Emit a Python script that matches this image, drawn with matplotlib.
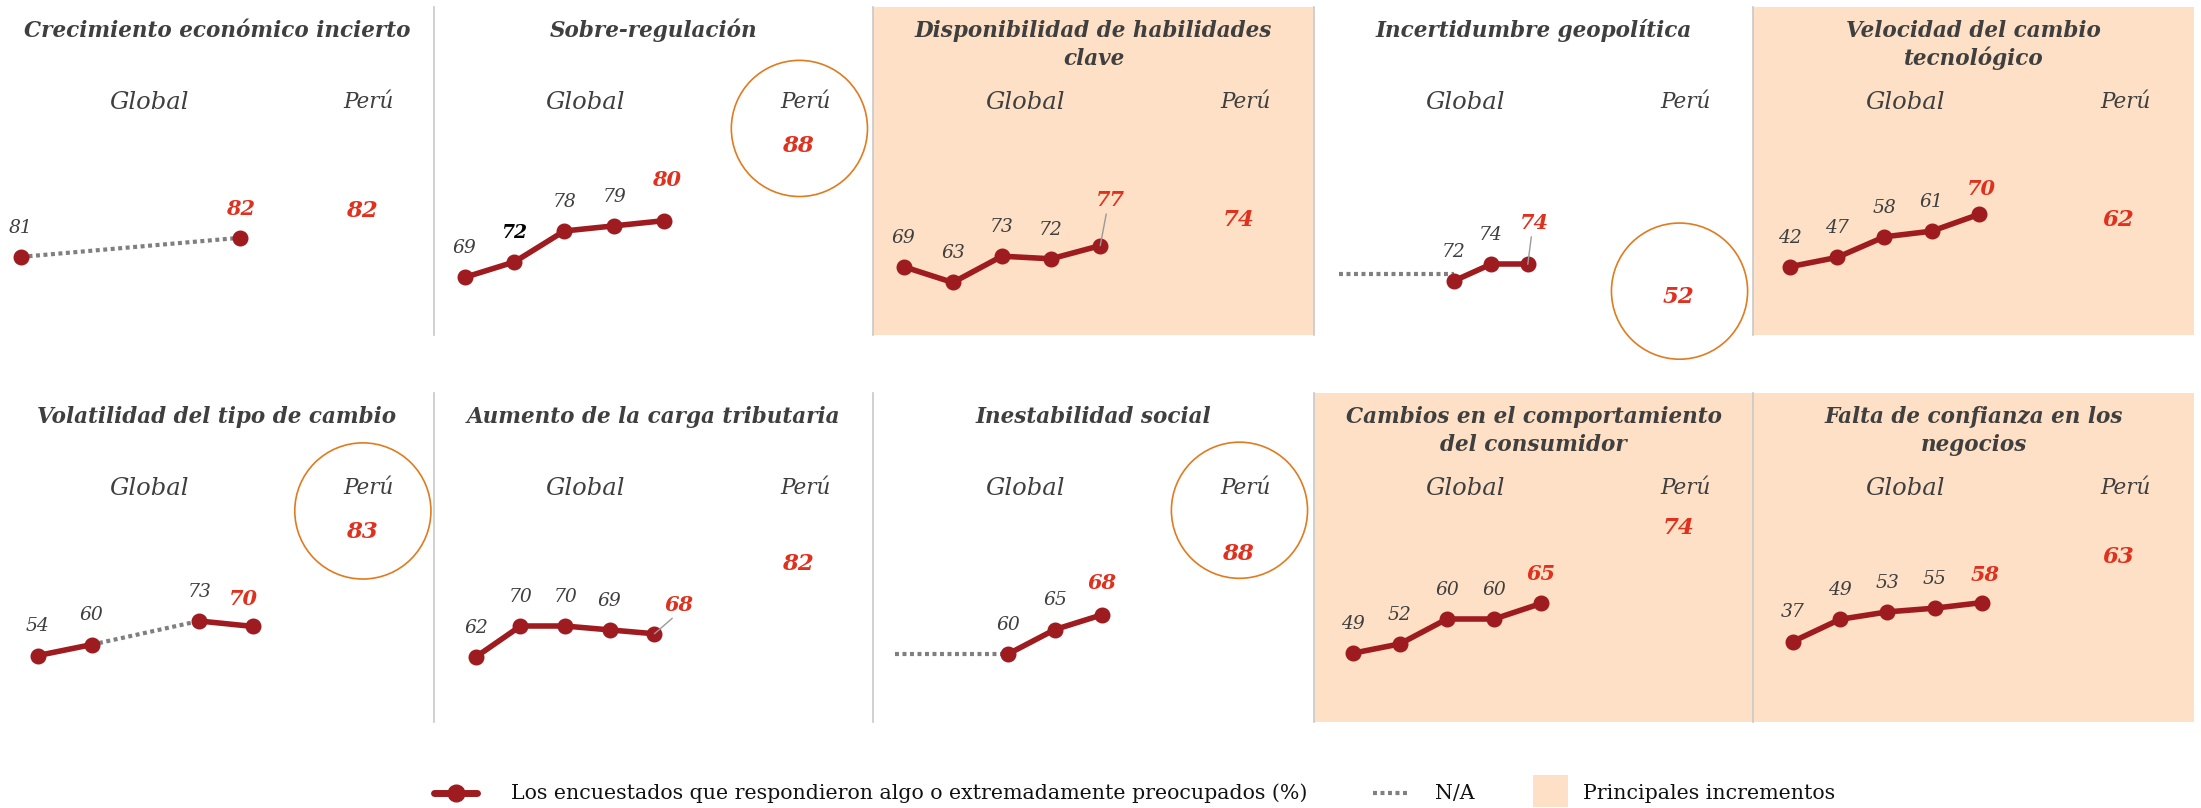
import numpy as np
import matplotlib.pyplot as plt
from matplotlib.patches import Ellipse, Rectangle
from matplotlib.lines import Line2D

plt.rcParams['font.family'] = 'DejaVu Serif'

# layout numbers are measured on a 1568 px wide copy of the reference
RW = 1568.0
RH = RW * 808 / 2201


def fx(x):
    return x / RW


def fy(y):
    return 1 - y / RH


# data
titles = [
    "Crecimiento económico incierto",
    "Sobre-regulación",
    "Disponibilidad de habilidades\nclave",
    "Incertidumbre geopolítica",
    "Velocidad del cambio\ntecnológico",
    "Volatilidad del tipo de cambio",
    "Aumento de la carga tributaria",
    "Inestabilidad social",
    "Cambios en el comportamiento\ndel consumidor",
    "Falta de confianza en los\nnegocios",
]
global_values = [
    [81, 82],
    [69, 72, 78, 79, 80],
    [69, 63, 73, 72, 77],
    [72, 74, 74],
    [42, 47, 58, 61, 70],
    [54, 60, 73, 70],
    [62, 70, 70, 69, 68],
    [60, 65, 68],
    [49, 52, 60, 60, 65],
    [37, 49, 53, 55, 58],
]
global_slots = [
    [0, 4],
    [0, 1, 2, 3, 4],
    [0, 1, 2, 3, 4],
    [0, 1, 2],
    [0, 1, 2, 3, 4],
    [0, 1, 3, 4],
    [0, 1, 2, 3, 4],
    [0, 1, 2],
    [0, 1, 2, 3, 4],
    [0, 1, 2, 3, 4],
]
# pairs of points joined by a dotted N/A line instead of a solid one
na_links = [[(0, 1)], [], [], [], [], [(1, 2)], [], [], [], []]
# dotted N/A lead-in before the first point: (start slot, level)
na_lead = [None, None, None, (-3.1, 72.8), None, None, None, (-2.4, 60), None, None]
peru_values = [82, 88, 74, 52, 62, 83, 82, 88, 74, 63]
peru_circled = [False, True, False, True, False, True, False, True, False, False]
top_increase = [False, False, True, False, True, False, False, False, True, True]

# colours
TXT = '#3f3f3f'
RED_TXT = '#e0301e'
LINE_RED = '#9e1b1f'
NA_GRAY = '#7f7f7f'
SHADE = '#fde0c5'
SEP = '#c8c8c8'
ORANGE = '#e07b1f'
NA_DASH = (0, (0.95, 0.85))

# layout
col_x = [0, 309, 622, 936, 1249, 1563]
row_y = [(5, 239), (280, 514)]
# x of slot 0, slot spacing, anchor value, its y, px per unit
scales = [
    (15.0, 39.0, 81, 183.0, 13.6),
    (331.0, 35.5, 69, 197.6, 3.67),
    (643.8, 35.0, 69, 190.0, 1.875),
    (1035.6, 26.4, 72, 200.2, 5.95),
    (1275.2, 33.65, 42, 190.0, 1.332),
    (27.0, 38.3, 54, 467.0, 1.295),
    (339.0, 31.8, 62, 468.0, 2.75),
    (718.0, 33.5, 60, 466.0, 3.5),
    (963.6, 33.6, 49, 465.4, 2.22),
    (1277.1, 33.7, 37, 457.1, 1.324),
]
peru_y = [150, 104, 156.7, 211.3, 156.7, 378.8, 402, 395, 376, 396.6]
circle_y = [None, 91.5, None, 207.4, None, 364, None, 363.5, None, None]
last_off = [(0, 21), (2, 29), (7, 33), (5, 30), (2, 18), (-7, 20), (18, 21), (0, 23), (0, 21), (2, 20)]
leader = [False, False, True, True, False, False, True, False, False, False]
label_color = {(1, 1): '#000000'}

fig = plt.figure(figsize=(22.01, 8.08), dpi=100)

for i in range(10):
    r, c = divmod(i, 5)
    L, R = col_x[c], col_x[c + 1]
    T, B = row_y[r]
    pc = (L + R) / 2
    ax = fig.add_axes([fx(L), fy(B), fx(R) - fx(L), fy(T) - fy(B)])
    x0, dx, v0, y0, s = scales[i]
    ax.set_xlim((L - x0) / dx, (R - x0) / dx)
    ax.set_ylim(v0 - (B - y0) / s, v0 + (y0 - T) / s)
    ax.set_facecolor(SHADE if top_increase[i] else 'none')
    for side in ax.spines:
        ax.spines[side].set_visible(False)
    if c > 0:
        ax.spines['left'].set_visible(True)
        ax.spines['left'].set_color(SEP)
        ax.spines['left'].set_linewidth(1.2)
    ax.set_xticks([])
    ax.set_yticks([])

    xs = np.array(global_slots[i], dtype=float)
    ys = np.array(global_values[i], dtype=float)
    for k in range(len(xs) - 1):
        if (k, k + 1) in na_links[i]:
            ax.plot(xs[k:k + 2], ys[k:k + 2], color=NA_GRAY, lw=3,
                    ls=NA_DASH, zorder=2)
        else:
            ax.plot(xs[k:k + 2], ys[k:k + 2], color=LINE_RED, lw=4,
                    solid_capstyle='round', zorder=3)
    if na_lead[i] is not None:
        start, level = na_lead[i]
        ax.plot([start, xs[0]], [level, level], color=NA_GRAY, lw=3,
                ls=NA_DASH, zorder=2)
    ax.plot(xs, ys, 'o', ms=10.5, color=LINE_RED, zorder=4)

    n = len(xs)
    for k in range(n):
        if k == n - 1:
            ox, oy = last_off[i]
            arrow = None
            if leader[i]:
                arrow = dict(arrowstyle='-', color='#9a9a9a', lw=1,
                             shrinkA=1, shrinkB=0, relpos=(0.4, 0.0))
            ax.annotate(str(global_values[i][k]), (xs[k], ys[k]),
                        xytext=(ox, oy), textcoords='offset points',
                        ha='center', va='center', color=RED_TXT,
                        fontsize=15, fontweight='bold', fontstyle='italic',
                        arrowprops=arrow, zorder=5)
        else:
            col = label_color.get((i, k), TXT)
            ax.annotate(str(global_values[i][k]), (xs[k], ys[k]),
                        xytext=(0, 21), textcoords='offset points',
                        ha='center', va='center', color=col, fontsize=13.5,
                        fontstyle='italic',
                        fontweight='bold' if (i, k) in label_color else 'normal',
                        zorder=5)

    # title, one text per line
    for j, line in enumerate(titles[i].split('\n')):
        fig.text(fx(pc), fy(T + 21.3 + 20.3 * j), line, ha='center', va='baseline',
                 fontsize=15.5, fontweight='bold', fontstyle='italic', color=TXT)

    fig.text(fx(pc - 48.5), fy(T + 68), 'Global', ha='center', va='center',
             fontsize=17.5, fontstyle='italic', color=TXT)
    fig.text(fx(pc + 108), fy(T + 68), 'Perú', ha='center', va='center',
             fontsize=15.5, fontstyle='italic', color=TXT)
    fig.text(fx(pc + 103), fy(peru_y[i]), str(peru_values[i]), ha='center',
             va='center', fontsize=16.5, fontweight='bold', fontstyle='italic',
             color=RED_TXT)
    if peru_circled[i]:
        fig.add_artist(Ellipse((fx(pc + 104), fy(circle_y[i])), 97 / RW, 97 / RH,
                               transform=fig.transFigure, fill=False,
                               edgecolor=ORANGE, lw=1.2))

# legend
ly = 565.2
fig.add_artist(Line2D([fx(309), fx(340)], [fy(ly), fy(ly)], color=LINE_RED, lw=5,
                      solid_capstyle='round', transform=fig.transFigure))
fig.add_artist(Line2D([fx(325)], [fy(ly)], marker='o', ms=12, color=LINE_RED,
                      transform=fig.transFigure))
fig.text(fx(363.8), fy(ly), 'Los encuestados que respondieron algo o extremadamente preocupados (%)',
         ha='left', va='center', fontsize=14.8, color='#111111')
fig.add_artist(Line2D([fx(978), fx(1004.5)], [fy(ly), fy(ly)], color=NA_GRAY, lw=3,
                      ls=NA_DASH, transform=fig.transFigure))
fig.text(fx(1022.3), fy(ly), 'N/A', ha='left', va='center', fontsize=14.8, color='#111111')
fig.add_artist(Rectangle((fx(1092.4), fy(574.7)), 25 / RW, 22.6 / RH,
                         transform=fig.transFigure, facecolor=SHADE, edgecolor='none'))
fig.text(fx(1128), fy(ly), 'Principales incrementos', ha='left', va='center',
         fontsize=14.8, color='#111111')

fig.savefig('out.png', dpi=100)
